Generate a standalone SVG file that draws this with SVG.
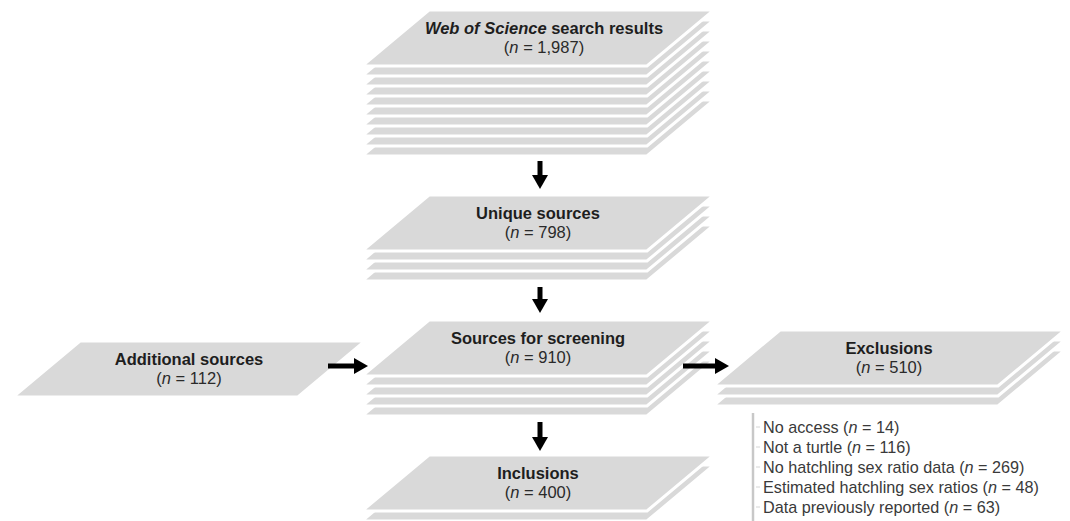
<svg xmlns="http://www.w3.org/2000/svg" xmlns:xlink="http://www.w3.org/1999/xlink" width="1070" height="521" viewBox="0 0 1070 521">
  <style>
    .sheet { fill: #d9d9d9; stroke: #ffffff; stroke-width: 3; stroke-linejoin: miter; }
    .title { font-family: "Liberation Sans", Arial, sans-serif; font-size: 16.5px; font-weight: bold; fill: #1e1e1e; text-anchor: middle; }
    .count { font-family: "Liberation Sans", Arial, sans-serif; font-size: 16.5px; fill: #2a2a2a; text-anchor: middle; }
    .item { font-family: "Liberation Sans", Arial, sans-serif; font-size: 16.2px; fill: #3a3a3a; }
    .conn { stroke: #000000; stroke-width: 5; fill: none; }
  </style>
  <defs>
    <!-- one sheet of a stack: a slanted parallelogram, 285 wide, 56 tall -->
    <path id="sheet" d="M67,0 H352 L285,56 H0 Z"/>
    <marker id="head" markerUnits="userSpaceOnUse" markerWidth="14" markerHeight="16" refX="1" refY="8" orient="auto">
      <path d="M0,0 L14,8 L0,16 Z" fill="#000000"/>
    </marker>
  </defs>
  <rect width="1070" height="521" fill="#ffffff"/>

  <!-- search results: front sheet + 9 sheets behind -->
  <g id="node-wos">
    <use href="#sheet" class="sheet" x="362" y="100"/>
    <use href="#sheet" class="sheet" x="362" y="90"/>
    <use href="#sheet" class="sheet" x="362" y="80"/>
    <use href="#sheet" class="sheet" x="362" y="70"/>
    <use href="#sheet" class="sheet" x="362" y="60"/>
    <use href="#sheet" class="sheet" x="362" y="50"/>
    <use href="#sheet" class="sheet" x="362" y="40"/>
    <use href="#sheet" class="sheet" x="362" y="30"/>
    <use href="#sheet" class="sheet" x="362" y="20"/>
    <use href="#sheet" class="sheet" x="362" y="10"/>
    <text class="title" x="544" y="34"><tspan font-style="italic">Web of Science</tspan> search results</text>
    <text class="count" x="544" y="53">(<tspan font-style="italic">n</tspan> = 1,987)</text>
  </g>

  <g id="node-unique">
    <use href="#sheet" class="sheet" x="362" y="225"/>
    <use href="#sheet" class="sheet" x="362" y="215"/>
    <use href="#sheet" class="sheet" x="362" y="205"/>
    <use href="#sheet" class="sheet" x="362" y="195"/>
    <text class="title" x="538" y="219">Unique sources</text>
    <text class="count" x="538" y="238">(<tspan font-style="italic">n</tspan> = 798)</text>
  </g>

  <g id="node-screening">
    <use href="#sheet" class="sheet" x="362" y="360"/>
    <use href="#sheet" class="sheet" x="362" y="350"/>
    <use href="#sheet" class="sheet" x="362" y="340"/>
    <use href="#sheet" class="sheet" x="362" y="330"/>
    <use href="#sheet" class="sheet" x="362" y="320"/>
    <text class="title" x="538" y="344">Sources for screening</text>
    <text class="count" x="538" y="363">(<tspan font-style="italic">n</tspan> = 910)</text>
  </g>

  <g id="node-additional">
    <use href="#sheet" class="sheet" x="13" y="341"/>
    <text class="title" x="189" y="365">Additional sources</text>
    <text class="count" x="189" y="384">(<tspan font-style="italic">n</tspan> = 112)</text>
  </g>

  <g id="node-exclusions">
    <use href="#sheet" class="sheet" x="713" y="350"/>
    <use href="#sheet" class="sheet" x="713" y="340"/>
    <use href="#sheet" class="sheet" x="713" y="330"/>
    <text class="title" x="889" y="354">Exclusions</text>
    <text class="count" x="889" y="373">(<tspan font-style="italic">n</tspan> = 510)</text>
  </g>

  <g id="node-inclusions">
    <use href="#sheet" class="sheet" x="362" y="465"/>
    <use href="#sheet" class="sheet" x="362" y="455"/>
    <text class="title" x="538" y="479">Inclusions</text>
    <text class="count" x="538" y="498">(<tspan font-style="italic">n</tspan> = 400)</text>
  </g>

  <!-- breakdown of the exclusions -->
  <g id="exclusion-reasons">
    <line x1="753" y1="413" x2="753" y2="521" stroke="#c8c8c8" stroke-width="2.5"/>
    <g stroke="#d4d4d4" stroke-width="1">
      <line x1="756" y1="427" x2="760" y2="427"/>
      <line x1="756" y1="447" x2="760" y2="447"/>
      <line x1="756" y1="467" x2="760" y2="467"/>
      <line x1="756" y1="487" x2="760" y2="487"/>
      <line x1="756" y1="507" x2="760" y2="507"/>
    </g>
    <text class="item" x="763" y="433">No access (<tspan font-style="italic">n</tspan> = 14)</text>
    <text class="item" x="763" y="453">Not a turtle (<tspan font-style="italic">n</tspan> = 116)</text>
    <text class="item" x="763" y="473">No hatchling sex ratio data (<tspan font-style="italic">n</tspan> = 269)</text>
    <text class="item" x="763" y="493">Estimated hatchling sex ratios (<tspan font-style="italic">n</tspan> = 48)</text>
    <text class="item" x="763" y="513">Data previously reported (<tspan font-style="italic">n</tspan> = 63)</text>
  </g>

  <g id="connectors">
    <line class="conn" x1="540" y1="161" x2="540" y2="176" marker-end="url(#head)"/>
    <line class="conn" x1="540" y1="287" x2="540" y2="300" marker-end="url(#head)"/>
    <line class="conn" x1="540" y1="422" x2="540" y2="438" marker-end="url(#head)"/>
    <line class="conn" x1="328" y1="366" x2="355" y2="366" marker-end="url(#head)"/>
    <line class="conn" x1="683" y1="366" x2="716" y2="366" marker-end="url(#head)"/>
  </g>
</svg>
